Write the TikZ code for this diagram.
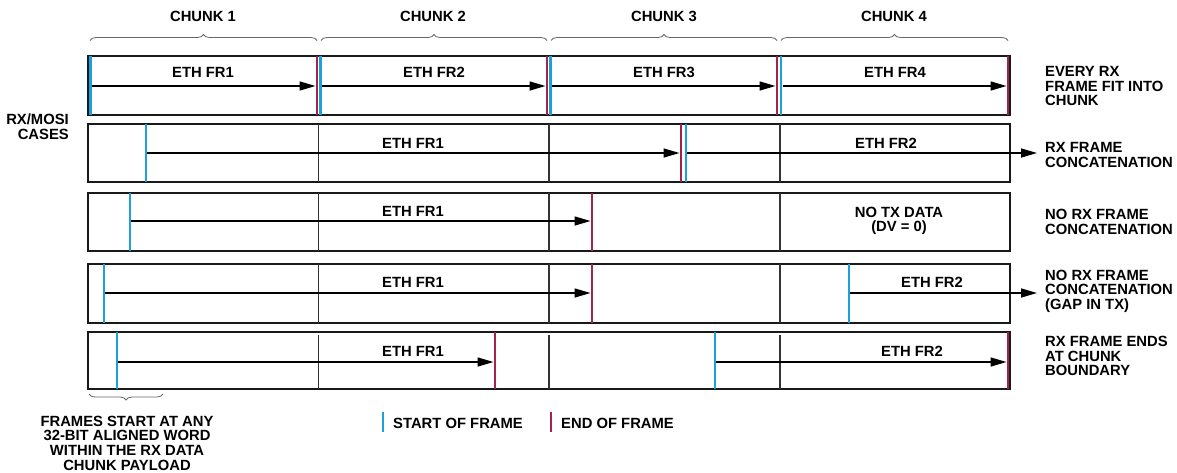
\documentclass[tikz,border=0pt]{standalone}
\usepackage{fontspec}
\setmainfont{Liberation Sans}
\usetikzlibrary{arrows.meta,decorations.pathreplacing}
\definecolor{sofblue}{RGB}{27,160,220}
\definecolor{eofred}{RGB}{163,35,75}
\begin{document}
\begin{tikzpicture}[x=1pt,y=-1pt,
  font=\fontsize{14.8}{14.6}\selectfont\bfseries,
  rowbox/.style={draw=black!90, line width=1.4pt},
  divider/.style={draw=black!80, line width=1.1pt},
  sof/.style={draw=sofblue, line width=2.4pt},
  eof/.style={draw=eofred, line width=2.4pt},
  frm/.style={draw=black, line width=1.5pt, -{Triangle[length=16pt,width=9pt]}},
  lbl/.style={inner sep=0pt},
  side/.style={anchor=west, align=left, inner sep=0pt},
  chunkbrace/.style={draw=black!60, line width=0.8pt, decorate, decoration={brace, amplitude=6pt}},
]
\useasboundingbox (0,0) rectangle (1177,472);

% chunk headers
\node[lbl] (c1) at (203,16.5) {CHUNK 1};
\node[lbl] (c2) at (433,16.5) {CHUNK 2};
\node[lbl] (c3) at (664,16.5) {CHUNK 3};
\node[lbl] (c4) at (894,16.5) {CHUNK 4};
\draw[chunkbrace] (90,40.5) -- (317,40.5);
\draw[chunkbrace] (321,40.5) -- (547,40.5);
\draw[chunkbrace] (551,40.5) -- (777,40.5);
\draw[chunkbrace] (781,40.5) -- (1008,40.5);

% left label
\node[anchor=east, align=right, inner sep=0pt] (cases) at (69,126.5) {RX/MOSI\\CASES};

% ---------- row 1
\draw[rowbox] (88,56) rectangle (1010,115);
\draw[sof] (90.5,56) -- (90.5,115);
\draw[eof] (317,56) -- (317,115);
\draw[sof] (320.5,56) -- (320.5,115);
\draw[eof] (547,56) -- (547,115);
\draw[sof] (550.5,56) -- (550.5,115);
\draw[eof] (777,56) -- (777,115);
\draw[sof] (781,56) -- (781,115);
\draw[eof] (1008,56) -- (1008,115);
\coordinate (a1s) at (92,86);  \coordinate (a1e) at (315.5,86);
\coordinate (a2s) at (322,86); \coordinate (a2e) at (545.5,86);
\coordinate (a3s) at (552,86); \coordinate (a3e) at (775.5,86);
\coordinate (a4s) at (782.5,86); \coordinate (a4e) at (1006.5,86);
\draw[frm] (a1s) -- (a1e);
\draw[frm] (a2s) -- (a2e);
\draw[frm] (a3s) -- (a3e);
\draw[frm] (a4s) -- (a4e);
\node[lbl] (r1f1) at (203,72) {ETH FR1};
\node[lbl] (r1f2) at (434,72) {ETH FR2};
\node[lbl] (r1f3) at (664,72) {ETH FR3};
\node[lbl] (r1f4) at (895,72) {ETH FR4};
\node[side] (r1n) at (1045,86) {EVERY RX\\FRAME FIT INTO\\CHUNK};

% ---------- row 2
\draw[rowbox] (88,124) rectangle (1010,182);
\draw[divider] (318.5,124) -- (318.5,182);
\draw[divider] (549,124) -- (549,182);
\draw[divider] (780,124) -- (780,182);
\draw[sof] (146,124) -- (146,182);
\draw[eof] (681,124) -- (681,182);
\draw[sof] (686,124) -- (686,182);
\coordinate (b1s) at (147,153); \coordinate (b1e) at (679.5,153);
\coordinate (b2s) at (687,153); \coordinate (b2e) at (1037,153);
\draw[frm] (b1s) -- (b1e);
\draw[frm] (b2s) -- (b2e);
\node[lbl] (r2f1) at (413,143) {ETH FR1};
\node[lbl] (r2f2) at (886,143) {ETH FR2};
\node[side] (r2n) at (1045,155) {RX FRAME\\CONCATENATION};

% ---------- row 3
\draw[rowbox] (88,193) rectangle (1010,251);
\draw[divider] (318.5,193) -- (318.5,251);
\draw[divider] (549,193) -- (549,251);
\draw[divider] (780,193) -- (780,251);
\draw[sof] (130,193) -- (130,251);
\draw[eof] (592,193) -- (592,251);
\coordinate (c1s) at (131,221); \coordinate (c1e) at (590.5,221);
\draw[frm] (c1s) -- (c1e);
\node[lbl] (r3f1) at (413,211) {ETH FR1};
\node[align=center, inner sep=0pt] (r3nd) at (899,221) {NO TX DATA\\(DV = 0)};
\node[side] (r3n) at (1045,222) {NO RX FRAME\\CONCATENATION};

% ---------- row 4
\draw[rowbox] (88,264) rectangle (1010,323);
\draw[divider] (318.5,264) -- (318.5,323);
\draw[divider] (549,264) -- (549,323);
\draw[divider] (780,264) -- (780,323);
\draw[sof] (104,264) -- (104,323);
\draw[eof] (592,264) -- (592,323);
\draw[sof] (849,264) -- (849,323);
\coordinate (d1s) at (105,293); \coordinate (d1e) at (590.5,293);
\coordinate (d2s) at (850,293); \coordinate (d2e) at (1037,293);
\draw[frm] (d1s) -- (d1e);
\draw[frm] (d2s) -- (d2e);
\node[lbl] (r4f1) at (413,282) {ETH FR1};
\node[lbl] (r4f2) at (932,282) {ETH FR2};
\node[side] (r4n) at (1045,291) {NO RX FRAME\\CONCATENATION\\(GAP IN TX)};

% ---------- row 5
\draw[rowbox] (88,332) rectangle (1010,389);
\draw[divider] (318.5,335) -- (318.5,389);
\draw[divider] (549,335) -- (549,389);
\draw[divider] (780,335) -- (780,389);
\draw[sof] (117,332) -- (117,389);
\draw[eof] (495,332) -- (495,389);
\draw[sof] (715,332) -- (715,389);
\draw[eof] (1008,332) -- (1008,389);
\coordinate (e1s) at (118,362); \coordinate (e1e) at (493.5,362);
\coordinate (e2s) at (716,362); \coordinate (e2e) at (1006.5,362);
\draw[frm] (e1s) -- (e1e);
\draw[frm] (e2s) -- (e2e);
\node[lbl] (r5f1) at (413,351) {ETH FR1};
\node[lbl] (r5f2) at (912,351) {ETH FR2};
\node[side] (r5n) at (1045,356) {RX FRAME ENDS\\AT CHUNK\\BOUNDARY};

% bottom brace and note
\draw[chunkbrace] (163,394) -- (89,394);
\node[align=center, inner sep=0pt] (note) at (127,443) {FRAMES START AT ANY\\32-BIT ALIGNED WORD\\WITHIN THE RX DATA\\CHUNK PAYLOAD};

% legend
\draw[sof, line width=2pt] (383,412) -- (383,432);
\node[anchor=west, inner sep=0pt] (lsof) at (393,423) {START OF FRAME};
\draw[eof, line width=2pt] (551,412) -- (551,432);
\node[anchor=west, inner sep=0pt] (leof) at (561,423) {END OF FRAME};
\end{tikzpicture}
\end{document}
